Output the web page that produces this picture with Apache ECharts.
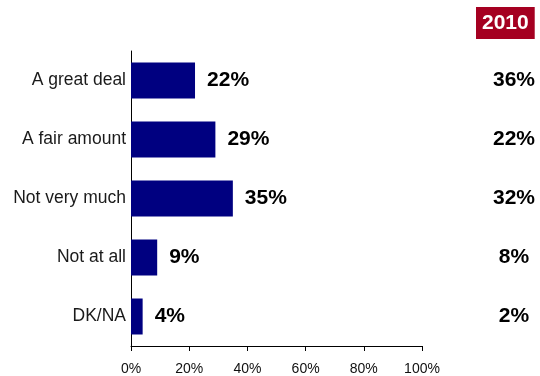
<!DOCTYPE html>
<html>
<head>
<meta charset="utf-8">
<script src="https://cdn.jsdelivr.net/npm/echarts@6/dist/echarts.min.js"></script>
<style>
  html, body { margin: 0; padding: 0; background: #fff; }
  #chart { width: 540px; height: 376px; }
</style>
</head>
<body>
<div id="chart"></div>
<script>
// Survey answers, with the current share and the 2010 share for comparison
const categories = ['A great deal', 'A fair amount', 'Not very much', 'Not at all', 'DK/NA'];
const current = [22, 29, 35, 9, 4];
const year2010 = [36, 22, 32, 8, 2];
const xTicks = [0, 20, 40, 60, 80, 100];
const compareLabel = '2010';

const FONT = 'Liberation Sans, Arial, sans-serif';

const chart = echarts.init(document.getElementById('chart'), null, { renderer: 'canvas' });

chart.setOption({
  animation: false,
  title: {
    text: compareLabel,
    left: 476,
    top: 7,
    padding: [6, 6, 5, 6],
    backgroundColor: '#A50021',
    textStyle: { color: '#fff', fontFamily: FONT, fontWeight: 'bold', fontSize: 21, lineHeight: 21 }
  },
  grid: { left: 131, right: 118, top: 51, bottom: 30, containLabel: false },
  xAxis: {
    type: 'value',
    min: xTicks[0],
    max: xTicks[xTicks.length - 1],
    interval: xTicks[1] - xTicks[0],
    axisLine: { show: true, lineStyle: { color: '#000', width: 1 } },
    axisTick: { show: true, length: 5, lineStyle: { color: '#000' } },
    splitLine: { show: false },
    axisLabel: {
      formatter: v => v + '%',
      fontFamily: FONT, fontSize: 14, color: '#111', margin: 16
    }
  },
  yAxis: [
    {
      type: 'category',
      data: categories,
      inverse: true,
      axisLine: { show: true, lineStyle: { color: '#000', width: 1 } },
      axisTick: { show: false },
      axisLabel: { fontFamily: FONT, fontSize: 17.5, color: '#1a1a1a', margin: 5 }
    },
    {
      type: 'category',
      data: year2010.map(v => v + '%'),
      inverse: true,
      position: 'right',
      axisLine: { show: false },
      axisTick: { show: false },
      axisLabel: {
        align: 'center', margin: 92,
        fontFamily: FONT, fontSize: 21, fontWeight: 'bold', color: '#000'
      }
    }
  ],
  series: [{
    type: 'bar',
    data: current,
    barCategoryGap: '39%',
    itemStyle: { color: '#000080' },
    label: {
      show: true,
      position: 'right',
      distance: 12,
      formatter: p => p.value + '%',
      fontFamily: FONT, fontSize: 21, fontWeight: 'bold', color: '#000'
    }
  }]
});
</script>
</body>
</html>
